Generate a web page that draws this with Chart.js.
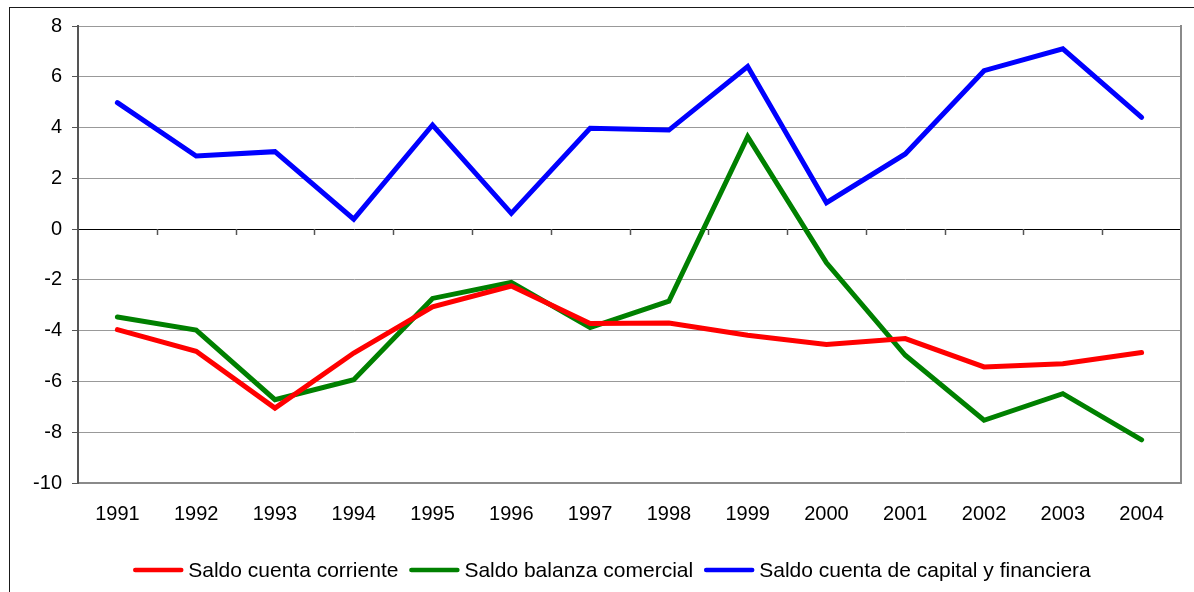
<!DOCTYPE html>
<html>
<head>
<meta charset="utf-8">
<script src="https://cdn.jsdelivr.net/npm/chart.js@4.4.1/dist/chart.umd.min.js"></script>
<style>
  html, body { margin: 0; padding: 0; background: #fff; }
  #wrap { position: relative; width: 1194px; height: 592px; overflow: hidden; }
  #frame { position: absolute; left: 9px; top: 7px; width: 1300px; height: 700px; border: 1px solid #1a1a1a; box-sizing: border-box; }
  #c { position: absolute; left: 0; top: 0; }
</style>
</head>
<body>
<div id="wrap">
  <div id="frame"></div>
  <canvas id="c" width="1194" height="592"></canvas>
</div>
<script>
const categories = ['1991','1992','1993','1994','1995','1996','1997','1998','1999','2000','2001','2002','2003','2004'];
const cuentaCorriente = [-3.96, -4.81, -7.05, -4.88, -3.06, -2.24, -3.72, -3.70, -4.18, -4.54, -4.31, -5.43, -5.30, -4.86];
const balanzaComercial = [-3.46, -3.98, -6.72, -5.93, -2.73, -2.10, -3.88, -2.84, 3.64, -1.33, -4.97, -7.53, -6.48, -8.30];
const capitalFinanciera = [4.98, 2.88, 3.05, 0.39, 4.10, 0.62, 3.97, 3.90, 6.40, 1.04, 2.96, 6.24, 7.10, 4.40];
const seriesNames = ['Saldo cuenta corriente', 'Saldo balanza comercial', 'Saldo cuenta de capital y financiera'];
const seriesColors = ['#FF0000', '#008000', '#0000FF'];
const yMin = -10, yMax = 8, yStep = 2;

const FONT = 'Liberation Sans, Arial, sans-serif';

const extras = {
  id: 'extras',
  afterDatasetsDraw(chart) {
    const ctx = chart.ctx, a = chart.chartArea, x = chart.scales.x, y = chart.scales.y;
    ctx.save();
    ctx.strokeStyle = '#8a8a8a';
    ctx.lineWidth = 2;
    ctx.beginPath();
    ctx.moveTo(a.right, a.top - 1);
    ctx.lineTo(a.right, a.bottom + 1);
    ctx.stroke();
    const y0 = Math.round(y.getPixelForValue(0));
    ctx.strokeStyle = '#555';
    ctx.lineWidth = 1.5;
    for (let i = 0; i < categories.length - 1; i++) {
      const px = Math.round((x.getPixelForValue(i) + x.getPixelForValue(i + 1)) / 2) + 0.5;
      ctx.beginPath();
      ctx.moveTo(px, y0);
      ctx.lineTo(px, y0 + 6);
      ctx.stroke();
    }
    ctx.restore();
  },
  afterDraw(chart) {
    const ctx = chart.ctx;
    ctx.save();
    ctx.font = '21px ' + FONT;
    ctx.textBaseline = 'middle';
    const sample = 50, gapText = 5, gapItem = 11;
    let total = 0;
    const widths = seriesNames.map(n => ctx.measureText(n).width);
    widths.forEach((w, i) => { total += sample + gapText + w + (i < widths.length - 1 ? gapItem : 0); });
    let cx = 612 - total / 2;
    const ly = 570;
    seriesNames.forEach((n, i) => {
      ctx.strokeStyle = seriesColors[i];
      ctx.lineWidth = 4.5;
      ctx.lineCap = 'round';
      ctx.beginPath();
      ctx.moveTo(cx + 2, ly);
      ctx.lineTo(cx + sample - 2, ly);
      ctx.stroke();
      ctx.fillStyle = '#000';
      ctx.fillText(n, cx + sample + gapText, ly + 1);
      cx += sample + gapText + widths[i] + gapItem;
    });
    ctx.restore();
  }
};

const datasets = [cuentaCorriente, balanzaComercial, capitalFinanciera].map((d, i) => ({
  label: seriesNames[i],
  data: d,
  borderColor: seriesColors[i],
  backgroundColor: seriesColors[i],
  borderWidth: 5,
  pointRadius: 0,
  pointHoverRadius: 0,
  tension: 0,
  borderCapStyle: 'round',
  borderJoinStyle: 'miter',
  fill: false
}));

new Chart(document.getElementById('c'), {
  type: 'line',
  data: { labels: categories, datasets },
  options: {
    responsive: false,
    animation: false,
    devicePixelRatio: 1,
    layout: { padding: { left: 0, top: 26, right: 13, bottom: 49 } },
    plugins: { legend: { display: false }, tooltip: { enabled: false } },
    scales: {
      x: {
        type: 'category',
        offset: true,
        grid: { display: false, drawTicks: false },
        border: { display: true, color: '#8a8a8a', width: 2 },
        ticks: { color: '#000', font: { family: FONT, size: 20 }, padding: 19, maxRotation: 0, autoSkip: false },
        afterFit: s => { s.height = 60; }
      },
      y: {
        min: yMin, max: yMax,
        ticks: { stepSize: yStep, color: '#000', font: { family: FONT, size: 20 }, padding: 10 },
        grid: {
          color: c => (c.tick && c.tick.value === 0) ? '#000' : '#999',
          lineWidth: 1,
          drawTicks: true,
          tickLength: 6,
          tickColor: '#555'
        },
        border: { color: '#555', width: 2 },
        afterFit: s => { s.width = 78; }
      }
    }
  },
  plugins: [extras]
});
</script>
</body>
</html>
